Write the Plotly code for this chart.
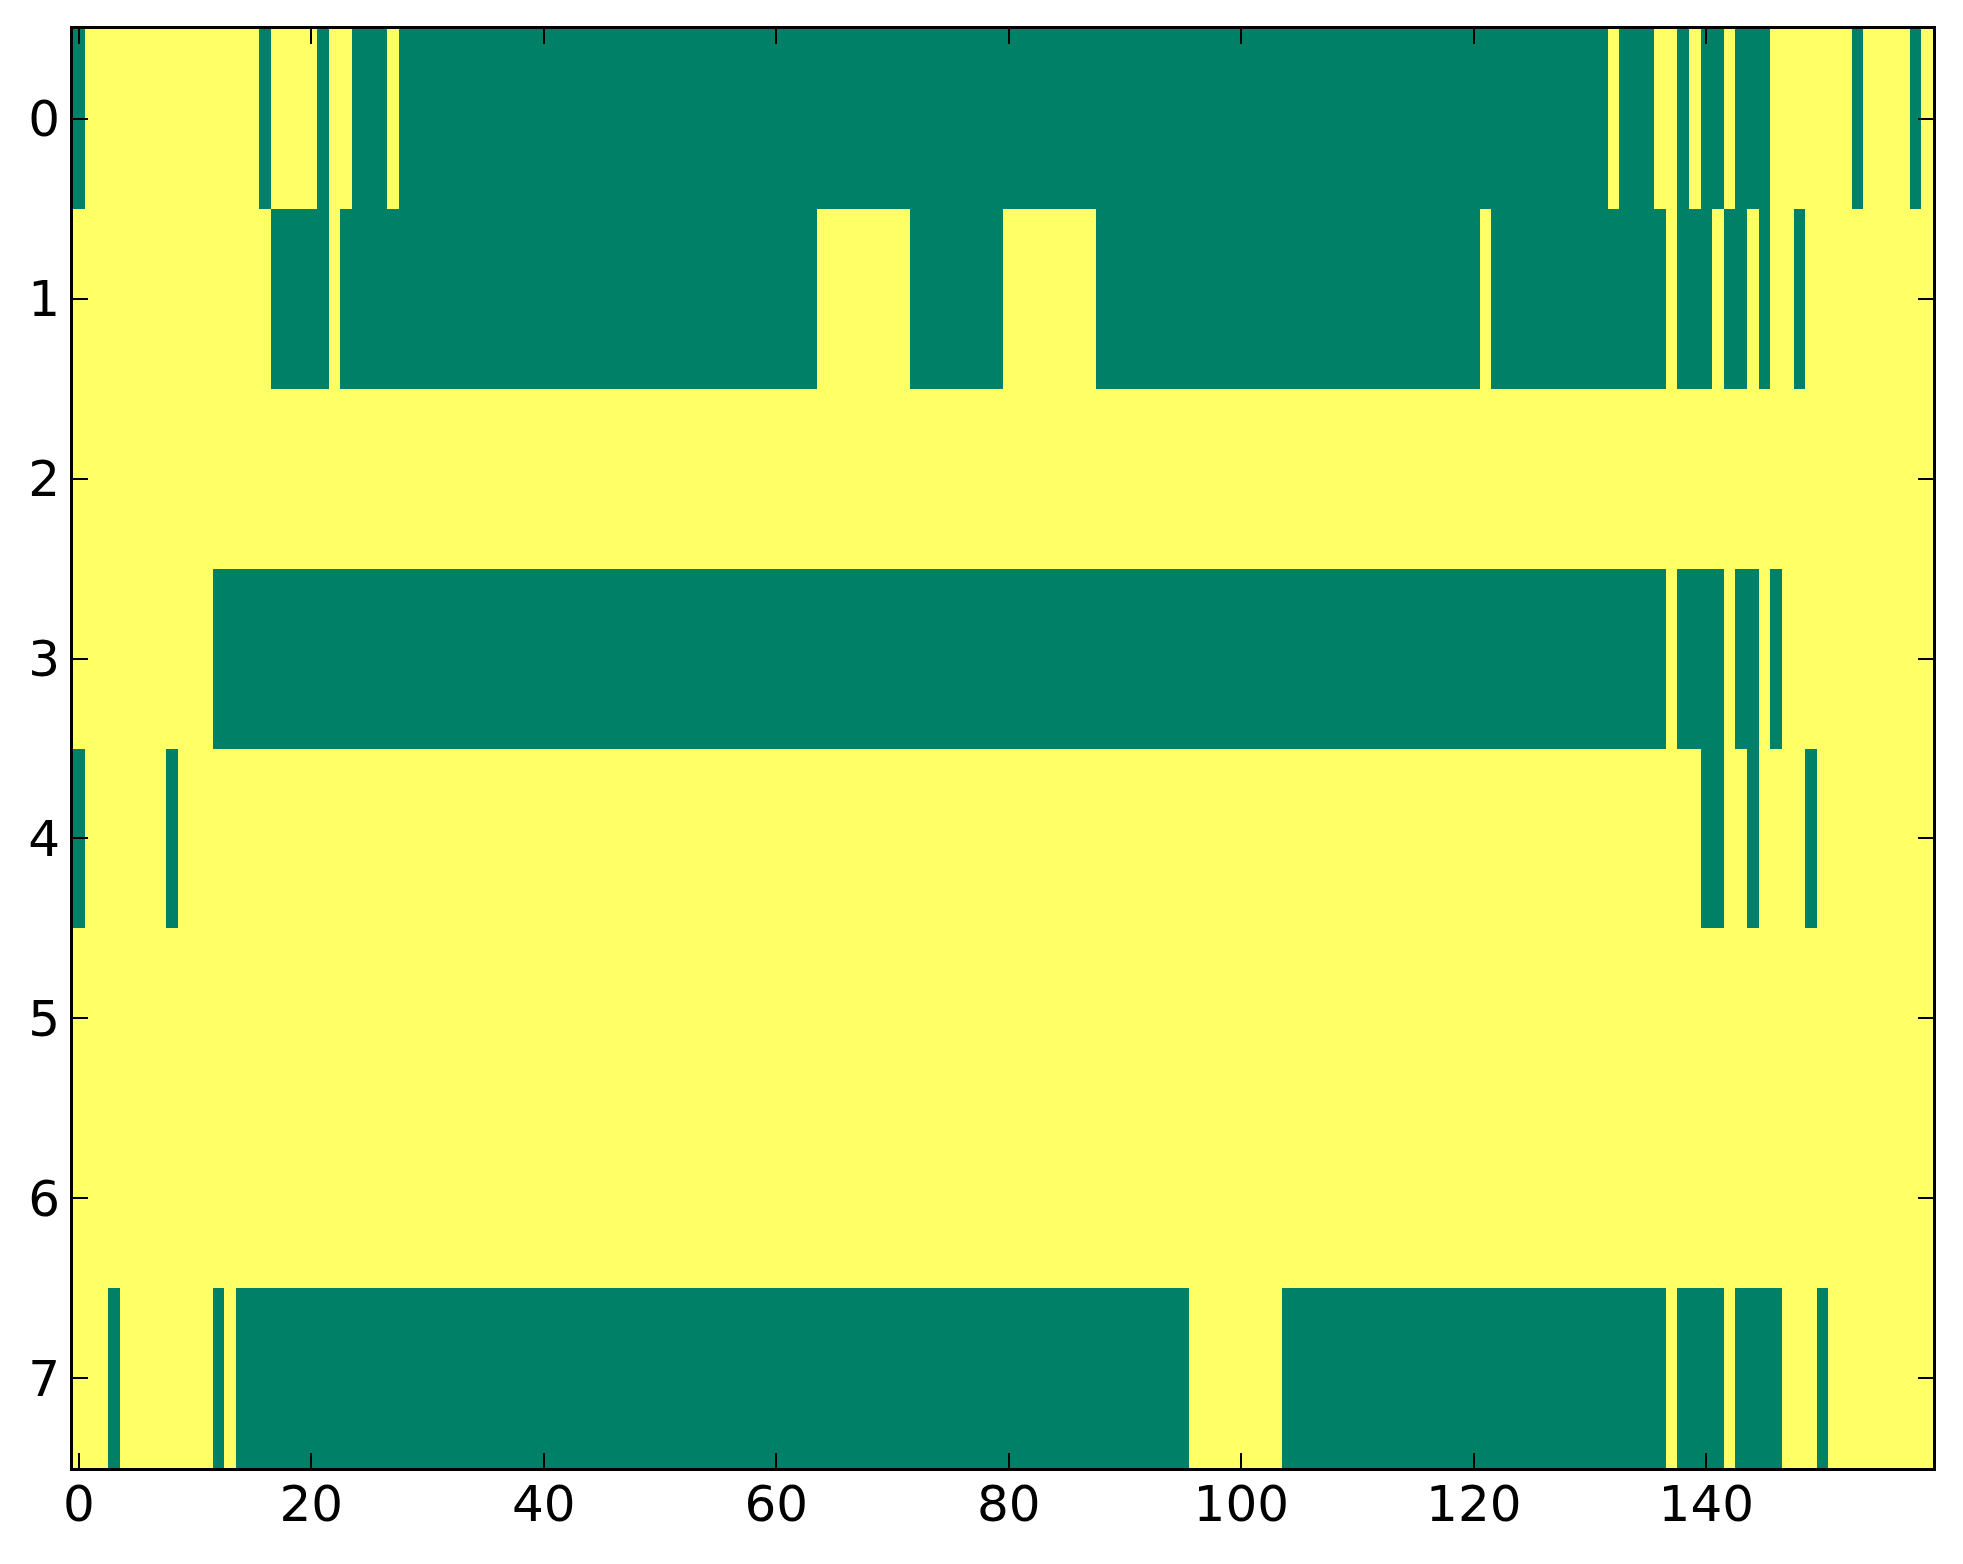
import numpy as np
import plotly.graph_objects as go

# binary 8 x 160 matrix, stored as runs of green (0) cells per row; the rest is yellow (1)
N_COLS = 160
ROW_LABELS = [0, 1, 2, 3, 4, 5, 6, 7]
X_TICKS = [0, 20, 40, 60, 80, 100, 120, 140]

ROW0_GREEN = [(0, 0), (16, 16), (21, 21), (24, 26), (28, 131), (133, 135),
              (138, 138), (140, 141), (143, 145), (153, 153), (158, 158)]
ROW1_GREEN = [(17, 21), (23, 63), (72, 79), (88, 120), (122, 136),
              (138, 140), (142, 143), (145, 145), (148, 148)]
ROW2_GREEN = []
ROW3_GREEN = [(12, 136), (138, 141), (143, 144), (146, 146)]
ROW4_GREEN = [(0, 0), (8, 8), (140, 141), (144, 144), (149, 149)]
ROW5_GREEN = []
ROW6_GREEN = []
ROW7_GREEN = [(3, 3), (12, 12), (14, 95), (104, 136), (138, 141),
              (143, 146), (150, 150)]

GREEN = '#008066'
YELLOW = '#ffff66'


def build_matrix():
    rows = [ROW0_GREEN, ROW1_GREEN, ROW2_GREEN, ROW3_GREEN,
            ROW4_GREEN, ROW5_GREEN, ROW6_GREEN, ROW7_GREEN]
    z = np.ones((len(rows), N_COLS), dtype=int)
    for i, runs in enumerate(rows):
        for a, b in runs:
            z[i, a:b + 1] = 0
    return z


z = build_matrix()

fig = go.Figure(go.Heatmap(
    z=z,
    x=list(range(N_COLS)),
    y=ROW_LABELS,
    colorscale=[[0, GREEN], [0.5, GREEN], [0.5, YELLOW], [1, YELLOW]],
    zmin=0, zmax=1,
    showscale=False,
    hoverinfo='skip'
))

axis_common = dict(
    showgrid=False, zeroline=False,
    showline=True, linecolor='black', linewidth=3,
    mirror='ticks',
    ticks='inside', ticklen=15, tickwidth=2, tickcolor='black',
    tickfont=dict(family='DejaVu Sans', size=50, color='black'),
)

fig.update_xaxes(range=[-0.5, N_COLS - 0.5], tickmode='array',
                 tickvals=X_TICKS, ticktext=[str(v) for v in X_TICKS],
                 ticklabelstandoff=-10, **axis_common)
fig.update_yaxes(range=[7.5, -0.5], tickmode='array',
                 tickvals=ROW_LABELS, ticktext=[str(v) for v in ROW_LABELS],
                 ticklabelstandoff=0, **axis_common)

# page body has an 8px margin, so the figure is shrunk and shifted to line up
fig.update_layout(
    width=1947, height=1548,
    margin=dict(l=65, r=22, t=21, b=88),
    plot_bgcolor='white', paper_bgcolor='white',
    showlegend=False,
)

fig.write_html("out.html")
